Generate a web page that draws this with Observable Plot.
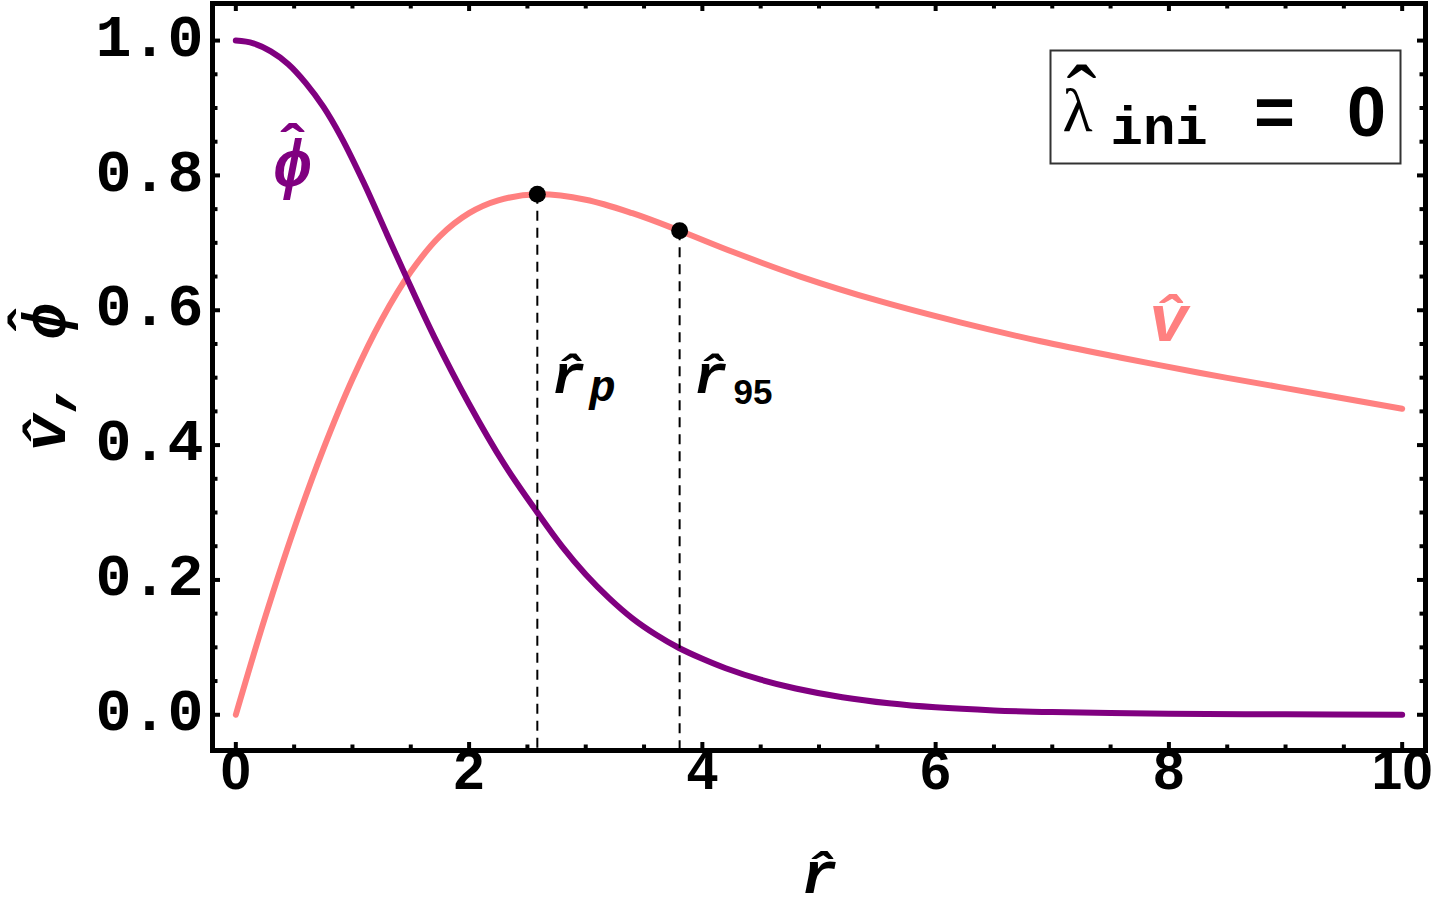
<!DOCTYPE html>
<html><head><meta charset="utf-8">
<script src="https://cdn.jsdelivr.net/npm/d3@7"></script>
<script src="https://cdn.jsdelivr.net/npm/@observablehq/plot@0.6"></script>
<style>html,body{margin:0;padding:0;background:#fff;} svg{display:block;}</style>
</head><body><div id="chart"></div>
<script>
// ---- data ----
const vR   = [0, 0.25, 0.5, 0.75, 1.0, 1.25, 1.5, 1.75, 2.0, 2.25, 2.585, 3.0, 3.4, 3.805, 4.27, 4.84, 5.53, 6.21, 6.90, 7.58, 8.27, 8.95, 10.0];
const vVal = [0, 0.144, 0.276, 0.394, 0.498, 0.586, 0.657, 0.710, 0.744, 0.763, 0.772, 0.764, 0.744, 0.718, 0.686, 0.650, 0.613, 0.582, 0.554, 0.530, 0.507, 0.486, 0.454];
const phiR   = [0, 0.15, 0.3, 0.45, 0.6, 0.75, 0.9, 1.1, 1.3, 1.457, 1.7, 2.0, 2.3, 2.585, 2.8, 3.0, 3.2, 3.4, 3.6, 3.8, 4.0, 4.2, 4.5, 4.8, 5.2, 5.6, 6.0, 6.5, 7.0, 7.5, 8.0, 9.0, 10.0];
const phiVal = [1.0, 0.996, 0.984, 0.965, 0.937, 0.902, 0.858, 0.788, 0.711, 0.651, 0.561, 0.461, 0.372, 0.300, 0.249, 0.208, 0.173, 0.143, 0.119, 0.099, 0.083, 0.069, 0.052, 0.039, 0.026, 0.017, 0.011, 0.0065, 0.004, 0.0025, 0.0016, 0.0006, 0.0002];
const markNames = ["p", "95"];
const markR = [2.585, 3.805];
const markV = [0.772, 0.718];
const xTicks = [0, 2, 4, 6, 8, 10];
const xMinor = [0.5, 1, 1.5, 2.5, 3, 3.5, 4.5, 5, 5.5, 6.5, 7, 7.5, 8.5, 9, 9.5];
const yTicks = [0, 0.2, 0.4, 0.6, 0.8, 1.0];
const yMinor = [0.05, 0.1, 0.15, 0.25, 0.3, 0.35, 0.45, 0.5, 0.55, 0.65, 0.7, 0.75, 0.85, 0.9, 0.95];
const yTickLabels = ["0.0", "0.2", "0.4", "0.6", "0.8", "1.0"];
const xTickLabels = ["0", "2", "4", "6", "8", "10"];
const curveLabels = [
  {x: 0.486, y: 0.815, text: "ϕ", hatY: 0.838, color: "#800080"},
  {x: 7.997, y: 0.585, text: "v̂", hatY: null, color: "#ff8080"}
];
const subLabelY = 0.478;

// ---- tables ----
const vData = vR.map((r, i) => ({r, v: vVal[i]}));
const phiData = phiR.map((r, i) => ({r, v: phiVal[i]}));
const marks = markR.map((r, i) => ({r, v: markV[i], name: markNames[i]}));

const W = 1440, H = 910, mL = 212, mR = 15, mT = 3, mB = 160;
const plotW = W - mL - mR, plotH = H - mT - mB;
const xDomain = [-0.2, 10.2], yDomain = [-0.053, 1.055];
const PURPLE = "#800080", SALMON = "#ff8080";
const MONO = "'Liberation Mono', 'DejaVu Sans Mono', monospace";
const SANS = "'Liberation Sans', Arial, sans-serif";
const SERIF = "'Liberation Serif', 'DejaVu Serif', serif";
const HAT = "ˆ";

const majL = 8, minL = 5.5;
const tickStyle = {stroke: "black", strokeWidth: 4};
const italicBold = {fontFamily: MONO, fontWeight: "bold", fontStyle: "italic"};

const chart = Plot.plot({
  width: W, height: H,
  marginLeft: mL, marginRight: mR, marginTop: mT, marginBottom: mB,
  style: {background: "white", overflow: "visible"},
  x: {domain: xDomain, axis: null},
  y: {domain: yDomain, axis: null},
  marks: [
    Plot.line(vData, {x: "r", y: "v", stroke: SALMON, strokeWidth: 6, curve: "catmull-rom"}),
    Plot.line(phiData, {x: "r", y: "v", stroke: PURPLE, strokeWidth: 6, curve: "catmull-rom"}),
    Plot.ruleX(marks, {x: "r", y1: "v", y2: yDomain[0], stroke: "black", strokeWidth: 2, strokeDasharray: "10,7"}),
    Plot.dot(marks, {x: "r", y: "v", r: 8.5, fill: "black"}),
    // ticks (inward, on all four sides)
    Plot.tickX(xTicks, {x: d => d, insetTop: plotH - majL, ...tickStyle}),
    Plot.tickX(xMinor, {x: d => d, insetTop: plotH - minL, ...tickStyle}),
    Plot.tickX(xTicks, {x: d => d, insetBottom: plotH - majL, ...tickStyle}),
    Plot.tickX(xMinor, {x: d => d, insetBottom: plotH - minL, ...tickStyle}),
    Plot.tickY(yTicks, {y: d => d, insetRight: plotW - majL, ...tickStyle}),
    Plot.tickY(yMinor, {y: d => d, insetRight: plotW - minL, ...tickStyle}),
    Plot.tickY(yTicks, {y: d => d, insetLeft: plotW - majL, ...tickStyle}),
    Plot.tickY(yMinor, {y: d => d, insetLeft: plotW - minL, ...tickStyle}),
    Plot.frame({stroke: "black", strokeWidth: 5}),
    // tick labels
    Plot.text(yTicks, {y: d => d, text: (d, i) => yTickLabels[i], frameAnchor: "left", textAnchor: "end", dx: -9, dy: -4,
      fontFamily: MONO, fontWeight: "bold", fontSize: 60, fill: "black"}),
    Plot.text(xTicks, {x: d => d, text: (d, i) => xTickLabels[i], frameAnchor: "bottom", textAnchor: "middle", dy: 38,
      fontFamily: SANS, fontWeight: "bold", fontSize: 55, fill: "black"}),
    // axis labels
    Plot.text(["r̂"], {frameAnchor: "bottom", textAnchor: "middle", lineAnchor: "bottom", dy: 142, ...italicBold, fontSize: 60, fill: "black"}),
    Plot.text(["v̂, ϕ"], {frameAnchor: "left", textAnchor: "middle", rotate: -90, dx: -167, ...italicBold, fontSize: 62, fill: "black"}),
    Plot.text([HAT], {frameAnchor: "left", textAnchor: "middle", rotate: -90, lineAnchor: "bottom", dx: -162, dy: -57, fontFamily: MONO, fontWeight: "bold", fontSize: 62, fill: "black"}),
    // curve labels
    Plot.text(curveLabels, {x: "x", y: "y", text: "text", fill: "color", textAnchor: "middle", ...italicBold, fontSize: 66}),
    Plot.text(curveLabels.filter(d => d.hatY != null), {x: "x", y: "hatY", text: () => HAT, fill: "color", textAnchor: "middle", fontFamily: MONO, fontWeight: "bold", fontSize: 66}),
    // r_p, r_95 labels
    Plot.text(marks, {x: "r", y: subLabelY, text: () => "r̂", textAnchor: "start", lineAnchor: "bottom", dx: 14,
      ...italicBold, fontSize: 56, fill: "black"}),
    Plot.text(marks.filter(d => d.name === "p"), {x: "r", y: subLabelY, text: "name", textAnchor: "start", lineAnchor: "bottom", dx: 52, dy: 8,
      ...italicBold, fontSize: 44, fill: "black"}),
    Plot.text(marks.filter(d => d.name === "95"), {x: "r", y: subLabelY, text: "name", textAnchor: "start", lineAnchor: "bottom", dx: 54, dy: 11,
      fontFamily: SANS, fontWeight: "bold", fontSize: 35, fill: "black"}),
    // legend box
    Plot.frame({stroke: "#333", strokeWidth: 2, fill: "white", insetLeft: 838, insetRight: 25, insetTop: 47, insetBottom: 587}),
    Plot.text(["λ"], {frameAnchor: "top-right", textAnchor: "start", lineAnchor: "bottom", dx: -363, dy: 127, fontFamily: SERIF, fontSize: 62, fill: "black"}),
    Plot.text([HAT], {frameAnchor: "top-right", textAnchor: "middle", lineAnchor: "bottom", dx: -344, dy: 124, fontFamily: SERIF, fontSize: 90, fill: "black"}),
    Plot.text(["ini"], {frameAnchor: "top-right", textAnchor: "start", lineAnchor: "bottom", dx: -315, dy: 140, fontFamily: MONO, fontWeight: "bold", fontSize: 54, fill: "black"}),
    Plot.text(["="], {frameAnchor: "top-right", textAnchor: "middle", lineAnchor: "bottom", dx: -151, dy: 132, fontFamily: MONO, fontWeight: "bold", fontSize: 70, fill: "black"}),
    Plot.text(["0"], {frameAnchor: "top-right", textAnchor: "middle", lineAnchor: "bottom", dx: -59, dy: 132, fontFamily: SANS, fontWeight: "bold", fontSize: 70, fill: "black"})
  ]
});
document.getElementById("chart").appendChild(chart);
</script>
</body></html>
